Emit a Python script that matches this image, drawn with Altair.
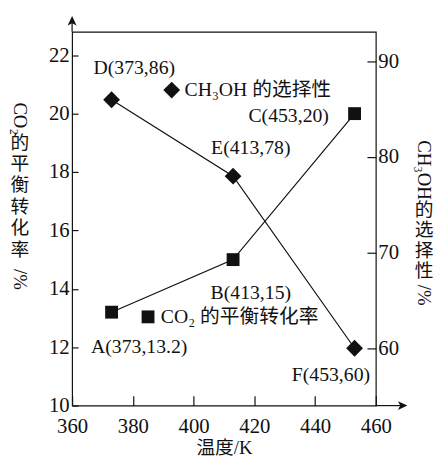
import altair as alt
import pandas as pd

# ---------------- data ----------------
temps = [373, 413, 453]
co2_conv = [13.2, 15, 20]
ch3oh_sel = [86, 78, 60]
co2_labels = ["A(373,13.2)", "B(413,15)", "C(453,20)"]
ch3oh_labels = ["D(373,86)", "E(413,78)", "F(453,60)"]
co2_name = "CO₂ 的平衡转化率"
ch3oh_name = "CH₃OH 的选择性"
x_ticks = [360, 380, 400, 420, 440, 460]
left_ticks = [10, 12, 14, 16, 18, 20, 22]
right_ticks = [60, 70, 80, 90]
x_title = "温度/K"
left_title = ["CO₂", "的", "平", "衡", "转", "化", "率", "/%"]
right_title = ["CH₃OH", "的", "选", "择", "性", "/%"]

# ---------------- style / layout ----------------
W, H = 308, 379
LAT = "Liberation Serif"
MIX = "Liberation Serif, Noto Sans CJK SC"
INK = "#111111"
ARROW_UP = "M0,-1L0.75,0.6L0,0.2L-0.75,0.6Z"
ARROW_RIGHT = "M1,0L-0.6,0.75L-0.2,0L-0.6,-0.75Z"
# vertical title layout: (x, centre y of each segment) in view pixels
LT_X, LT_Y = -53, [88, 113, 134, 155, 178, 199, 221, 251]
RT_X, RT_Y = 357, [140, 181, 201, 222, 243, 267]

co2_df = pd.DataFrame({"T": temps, "v": co2_conv, "label": co2_labels,
                       "series": [co2_name] * len(temps)})
ch_df = pd.DataFrame({"T": temps, "v": ch3oh_sel, "label": ch3oh_labels,
                      "series": [ch3oh_name] * len(temps)})

x_scale = alt.Scale(domain=[360, 460], nice=False, zero=False)
yl_scale = alt.Scale(domain=[10, 22.8], nice=False, zero=False)
yr_scale = alt.Scale(domain=[54, 93.1], nice=False, zero=False)

# ticks point inwards: the axis is pulled inside by the tick length
x_axis = alt.Axis(values=x_ticks, orient="bottom", title=x_title, domain=False, grid=False,
                  offset=-10, tickSize=10, tickColor=INK, tickWidth=1.2,
                  labelPadding=10, labelFont=LAT, labelFontSize=21, labelColor=INK,
                  labelFlush=False, labelOverlap=False, format="d",
                  titleFont=MIX, titleFontSize=19, titleFontWeight="normal",
                  titleColor=INK, titleBaseline="bottom", titleY=63)
yl_axis = alt.Axis(values=left_ticks, orient="left", title=None, domain=False, grid=False,
                   offset=-6, tickSize=6, tickColor=INK, tickWidth=1.2,
                   labelPadding=3, labelFont=LAT, labelFontSize=21, labelColor=INK,
                   labelFlush=False, labelOverlap=False, format="d")
yr_axis = alt.Axis(values=right_ticks, orient="right", title=None, domain=False, grid=False,
                   offset=-9, tickSize=9, tickColor=INK, tickWidth=1.2,
                   labelPadding=2, labelFont=LAT, labelFontSize=21, labelColor=INK,
                   labelFlush=False, labelOverlap=False, format="d")

X = alt.X("T:Q", scale=x_scale, axis=x_axis)
YL = alt.Y("v:Q", scale=yl_scale, axis=yl_axis)
YR = alt.Y("v:Q", scale=yr_scale, axis=yr_axis)


def legend_for(lx, ly, size):
    return alt.Legend(orient="none", legendX=lx, legendY=ly, title=None,
                      labelFont=MIX, labelFontSize=20, labelColor=INK, labelOffset=3,
                      symbolSize=size, symbolFillColor=INK, symbolStrokeColor=INK,
                      symbolStrokeWidth=0, symbolOpacity=1, padding=0)


# ---------- CO2 conversion (left axis) ----------
co2_line = alt.Chart(co2_df).mark_line(color=INK, strokeWidth=1.2).encode(x=X, y=YL)
co2_pts = alt.Chart(co2_df).mark_point(filled=True, color=INK, opacity=1, size=170).encode(
    x=X, y=YL,
    shape=alt.Shape("series:N", scale=alt.Scale(range=["square"]),
                    legend=legend_for(67, 279, 170)),
)
co2_off = {"A(373,13.2)": (28, 35, "center"), "B(413,15)": (18, 34, "center"),
           "C(453,20)": (-26, 2, "right")}
co2_txt = [
    alt.Chart(co2_df).transform_filter(alt.datum.label == lab)
    .mark_text(font=LAT, fontSize=20, color=INK, dx=o[0], dy=o[1], align=o[2], baseline="middle")
    .encode(x=X, y=YL, text="label:N")
    for lab, o in co2_off.items()
]
co2_group = alt.layer(co2_line, co2_pts, *co2_txt)

# ---------- CH3OH selectivity (right axis) ----------
ch_line = alt.Chart(ch_df).mark_line(color=INK, strokeWidth=1.2).encode(x=X, y=YR)
ch_pts = alt.Chart(ch_df).mark_point(filled=True, color=INK, opacity=1, size=290).encode(
    x=X, y=YR,
    shape=alt.Shape("series:N", scale=alt.Scale(range=["diamond"]),
                    legend=legend_for(91, 49, 290)),
)
ch_off = {"D(373,86)": (23, -32, "center"), "E(413,78)": (18, -29, "center"),
          "F(453,60)": (-24, 27, "center")}
ch_txt = [
    alt.Chart(ch_df).transform_filter(alt.datum.label == lab)
    .mark_text(font=LAT, fontSize=20, color=INK, dx=o[0], dy=o[1], align=o[2], baseline="middle")
    .encode(x=X, y=YR, text="label:N")
    for lab, o in ch_off.items()
]
ch_group = alt.layer(ch_line, ch_pts, *ch_txt)

# ---------- decorations: axis arrows and vertical axis titles ----------
dummy = alt.Chart(pd.DataFrame({"k": [0]}))
up_rule = dummy.mark_rule(color=INK, strokeWidth=1.2).encode(
    x=alt.value(0), y=alt.value(-10), y2=alt.value(0))
up_head = dummy.mark_point(shape=ARROW_UP, size=144, filled=True, color=INK, opacity=1).encode(
    x=alt.value(0), y=alt.value(-10))
rt_rule = dummy.mark_rule(color=INK, strokeWidth=1.2).encode(
    x=alt.value(W), x2=alt.value(W + 26), y=alt.value(H))
rt_head = dummy.mark_point(shape=ARROW_RIGHT, size=144, filled=True, color=INK, opacity=1).encode(
    x=alt.value(W + 26), y=alt.value(H))


def vsegment(txt, x, y):
    latin = txt.isascii() or any(c in txt for c in "₂₃")
    return dummy.mark_text(
        text=txt, angle=90 if latin else 0, font=LAT if latin else MIX, fontSize=19,
        color=INK, align="center", baseline="middle",
    ).encode(x=alt.value(x), y=alt.value(y))


titles = [vsegment(t, LT_X, y) for t, y in zip(left_title, LT_Y)] + \
         [vsegment(t, RT_X, y) for t, y in zip(right_title, RT_Y)]

chart = alt.layer(co2_group, ch_group, up_rule, up_head, rt_rule, rt_head, *titles).resolve_scale(
    y="independent", shape="independent"
).properties(
    width=W, height=H,
    autosize=alt.AutoSizeParams(type="none"),
    padding={"left": 65, "top": 21, "right": 60, "bottom": 55},
    background="white",
).configure_view(stroke=INK, strokeWidth=1.2)

chart.save("out.html", embed_options={"renderer": "svg", "actions": False})
